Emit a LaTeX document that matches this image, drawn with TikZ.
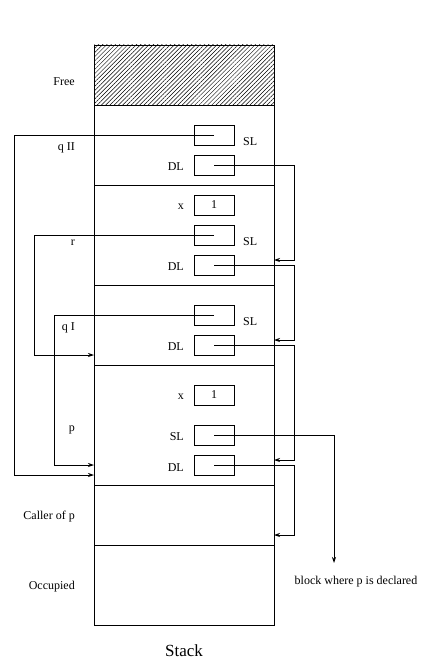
\documentclass[tikz,border=0pt]{standalone}
\usepackage{fontspec}
\setmainfont{Liberation Serif}
\usetikzlibrary{patterns.meta,arrows.meta}
\begin{document}
\begin{tikzpicture}[x=1pt,y=-1pt,
  every node/.style={font=\fontsize{12}{14}\selectfont},
  frame/.style={draw,line width=0.8pt,minimum width=180pt,inner sep=0pt,outer sep=0pt,anchor=north west},
  cell/.style={draw,line width=0.8pt,minimum width=40pt,minimum height=20pt,inner sep=0pt,outer sep=0pt},
  link/.style={line width=0.8pt},
  arr/.style={link,-{Stealth[length=6pt,width=4pt]}},
  labl/.style={anchor=east,inner sep=0pt},
  labr/.style={anchor=west,inner sep=0pt},
]
\useasboundingbox (0,0) rectangle (447,669);

% stack frames
\node[frame,minimum height=60pt,pattern={Lines[angle=45,distance=3pt,line width=0.5pt]}] (free) at (94,45) {};
\node[frame,minimum height=80pt] (fqII) at (94,105) {};
\node[frame,minimum height=100pt] (fr) at (94,185) {};
\node[frame,minimum height=80pt] (fqI) at (94,285) {};
\node[frame,minimum height=120pt] (fp) at (94,365) {};
\node[frame,minimum height=60pt] (fc) at (94,485) {};
\node[frame,minimum height=80pt] (fo) at (94,545) {};

% left labels
\node[labl] (lfree) at (75,82) {Free};
\node[labl] (lqII) at (75,148) {q II};
\node[labl] (lr) at (75,243) {r};
\node[labl] (lqI) at (75,328) {q I};
\node[labl] (lp) at (75,430) {p};
\node[labl] (lcaller) at (75,517) {Caller of p};
\node[labl] (locc) at (75,587) {Occupied};

% cells
\node[cell] (slA) at (214,135) {};
\node[cell] (dlA) at (214,165) {};
\node[cell] (xB) at (214,205) {1};
\node[cell] (slB) at (214,235) {};
\node[cell] (dlB) at (214,265) {};
\node[cell] (slC) at (214,315) {};
\node[cell] (dlC) at (214,345) {};
\node[cell] (xD) at (214,395) {1};
\node[cell] (slD) at (214,435) {};
\node[cell] (dlD) at (214,465) {};

% cell labels
\node[labr] (tslA) at (243,141.5) {SL};
\node[labl] (tdlA) at (184,167) {DL};
\node[labl] (txB) at (184,207) {x};
\node[labr] (tslB) at (243,242) {SL};
\node[labl] (tdlB) at (184,267) {DL};
\node[labr] (tslC) at (243,322) {SL};
\node[labl] (tdlC) at (184,347) {DL};
\node[labl] (txD) at (184,397) {x};
\node[labl] (tslD) at (184,437) {SL};
\node[labl] (tdlD) at (184,468) {DL};

% static links
\coordinate (a1) at (14,475); \coordinate (a1e) at (94,475);
\draw[arr] (slA.center) -| (a1) -- (a1e);
\coordinate (b1) at (34,355); \coordinate (b1e) at (94,355);
\draw[arr] (slB.center) -| (b1) -- (b1e);
\coordinate (c1) at (54,465); \coordinate (c1e) at (94,465);
\draw[arr] (slC.center) -| (c1) -- (c1e);
\coordinate (decl) at (334,563);
\draw[arr] (slD.center) -| (decl);
\node (tdecl) at (356,582) {block where p is declared};

% dynamic links
\coordinate (d1) at (294,260); \coordinate (d1e) at (274,260);
\draw[arr] (dlA.center) -| (d1) -- (d1e);
\coordinate (d2) at (294,340); \coordinate (d2e) at (274,340);
\draw[arr] (dlB.center) -| (d2) -- (d2e);
\coordinate (d3) at (294,460); \coordinate (d3e) at (274,460);
\draw[arr] (dlC.center) -| (d3) -- (d3e);
\coordinate (d4) at (294,535); \coordinate (d4e) at (274,535);
\draw[arr] (dlD.center) -| (d4) -- (d4e);

\node[font=\fontsize{17}{20}\selectfont] (stack) at (184,651) {Stack};
\end{tikzpicture}
\end{document}
